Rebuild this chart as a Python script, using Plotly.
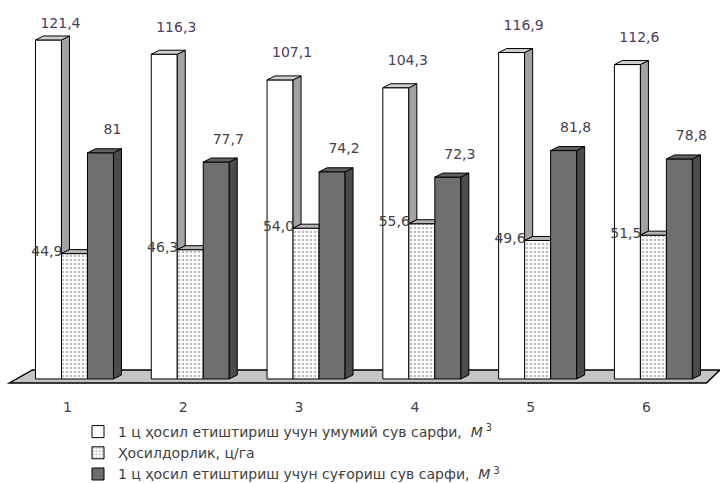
import plotly.graph_objects as go

categories = ["1", "2", "3", "4", "5", "6"]
total_water = [121.4, 116.3, 107.1, 104.3, 116.9, 112.6]
yield_cha = [44.9, 46.3, 54.0, 55.6, 49.6, 51.5]
irrig_water = [81, 77.7, 74.2, 72.3, 81.8, 78.8]

names = [
    "1 ц ҳосил етиштириш учун умумий сув сарфи,  <i>М</i><sup> 3</sup>",
    "Ҳосилдорлик, ц/га",
    "1 ц ҳосил етиштириш учун суғориш сув сарфи,  <i>М</i><sup> 3</sup>",
]

FONT = "DejaVu Sans, Liberation Sans, Arial, sans-serif"
W, H = 720, 483
ml, mr, mt, mb = 5, 0, 2, 99
xr = [-0.6, 5.575]
yr = [-1.8, 135]
pw, ph = W - ml - mr, H - mt - mb
pxx = pw / (xr[1] - xr[0])
pxy = ph / (yr[1] - yr[0])
dx = 8 / pxx
dy = 4 / pxy
bargap = 0.3264
bw = (1 - bargap) / 3
xs = list(range(len(categories)))
label_cap = yr[1] - 22 / pxy  # keep top labels inside the plot area

fig = go.Figure()
fig.add_trace(go.Bar(x=xs, y=total_water, name=names[0],
                     marker=dict(color="white", line=dict(color="black", width=1))))
fig.add_trace(go.Bar(x=xs, y=yield_cha, name=names[1],
                     marker=dict(color="white", line=dict(color="black", width=1),
                                 pattern=dict(shape=".", fgcolor="#7a7a7a", bgcolor="white",
                                              size=4, solidity=0.35))))
fig.add_trace(go.Bar(x=xs, y=irrig_water, name=names[2],
                     marker=dict(color="#6f6f6f", line=dict(color="black", width=1))))


def left(i, k):
    return i - 1.5 * bw + k * bw


def poly(trace_pts, color):
    px, py = [], []
    for pts in trace_pts:
        for (a, b) in pts + [pts[0]]:
            px.append(a)
            py.append(b)
        px.append(None)
        py.append(None)
    fig.add_trace(go.Scatter(x=px, y=py, mode="lines", fill="toself", fillcolor=color,
                             line=dict(color="black", width=1), showlegend=False,
                             hoverinfo="skip"))


side1, top1, top2, side3, top3 = [], [], [], [], []
for i in xs:
    l0, r0 = left(i, 0), left(i, 0) + bw
    v1, v2, v3 = total_water[i], yield_cha[i], irrig_water[i]
    side1.append([(r0, v2), (r0 + dx, v2 + dy), (r0 + dx, v1 + dy), (r0, v1)])
    top1.append([(l0, v1), (r0, v1), (r0 + dx, v1 + dy), (l0 + dx, v1 + dy)])
    l1, r1 = left(i, 1), left(i, 1) + bw
    top2.append([(l1, v2), (r1, v2), (r1, v2 + dy), (l1 + dx, v2 + dy)])
    l2, r2 = left(i, 2), left(i, 2) + bw
    side3.append([(r2, 0), (r2 + dx, dy), (r2 + dx, v3 + dy), (r2, v3)])
    top3.append([(l2, v3), (r2, v3), (r2 + dx, v3 + dy), (l2 + dx, v3 + dy)])

poly(side1, "#a3a3a3")
poly(top1, "#cfcfcf")
poly(top2, "#b5b5b5")
poly(side3, "#4b4b4b")
poly(top3, "#616161")

fig.add_trace(go.Scatter(
    x=[left(i, 0) + bw / 2 + 12 / pxx for i in xs],
    y=[min(v + 26 / pxy, label_cap) for v in total_water],
    mode="text", text=[("%.1f" % v).replace(".", ",") for v in total_water],
    textposition="middle center", textfont=dict(family=FONT, size=14, color="#4e3a62"),
    showlegend=False, hoverinfo="skip", cliponaxis=False))
fig.add_trace(go.Scatter(
    x=[left(i, 1) + 1 / pxx for i in xs],
    y=[v + 1 / pxy for v in yield_cha],
    mode="text", text=[("%.1f" % v).replace(".", ",") for v in yield_cha],
    textposition="middle left", textfont=dict(family=FONT, size=14, color="#3e4248"),
    showlegend=False, hoverinfo="skip", cliponaxis=False))
fig.add_trace(go.Scatter(
    x=[left(i, 2) + bw / 2 + 12 / pxx for i in xs],
    y=[v + 22 / pxy for v in irrig_water],
    mode="text", text=[("%g" % v).replace(".", ",") for v in irrig_water],
    textposition="middle center", textfont=dict(family=FONT, size=14, color="#46404e"),
    showlegend=False, hoverinfo="skip", cliponaxis=False))

fx0, fx1 = -0.561, 5.458
tx0, tx1 = -0.363, 5.575
fb, ft = -4 / pxy, 9 / pxy
fig.add_shape(type="path", xref="x", yref="y", layer="below",
              path=f"M{fx0},{fb} L{fx1},{fb} L{tx1},{ft} L{tx0},{ft} Z",
              fillcolor="#c4c4c4", line=dict(color="black", width=1.5))

fig.update_layout(
    width=W, height=H,
    margin=dict(l=ml, r=mr, t=mt, b=mb, autoexpand=False),
    paper_bgcolor="white", plot_bgcolor="white",
    barmode="group", bargap=bargap, bargroupgap=0,
    font=dict(family=FONT, color="#404040"),
    showlegend=True,
    legend=dict(x=(78 - ml) / pw, y=(H - mb - 416) / ph,
                xanchor="left", yanchor="top", font=dict(size=14, color="#404040"),
                itemwidth=30, bgcolor="rgba(0,0,0,0)", tracegroupgap=0),
    xaxis=dict(range=xr, showgrid=False, zeroline=False, showline=False,
               tickvals=[i - 7 / pxx for i in xs], ticktext=categories,
               ticks="outside", ticklen=10, tickcolor="rgba(0,0,0,0)",
               tickfont=dict(size=14, color="#4a4048")),
    yaxis=dict(range=yr, showgrid=False, zeroline=False, showline=False,
               showticklabels=False),
)

fig.write_html("out.html", config={"displayModeBar": False},
               post_script="document.body.style.margin='0px';document.body.style.overflow='hidden';")
